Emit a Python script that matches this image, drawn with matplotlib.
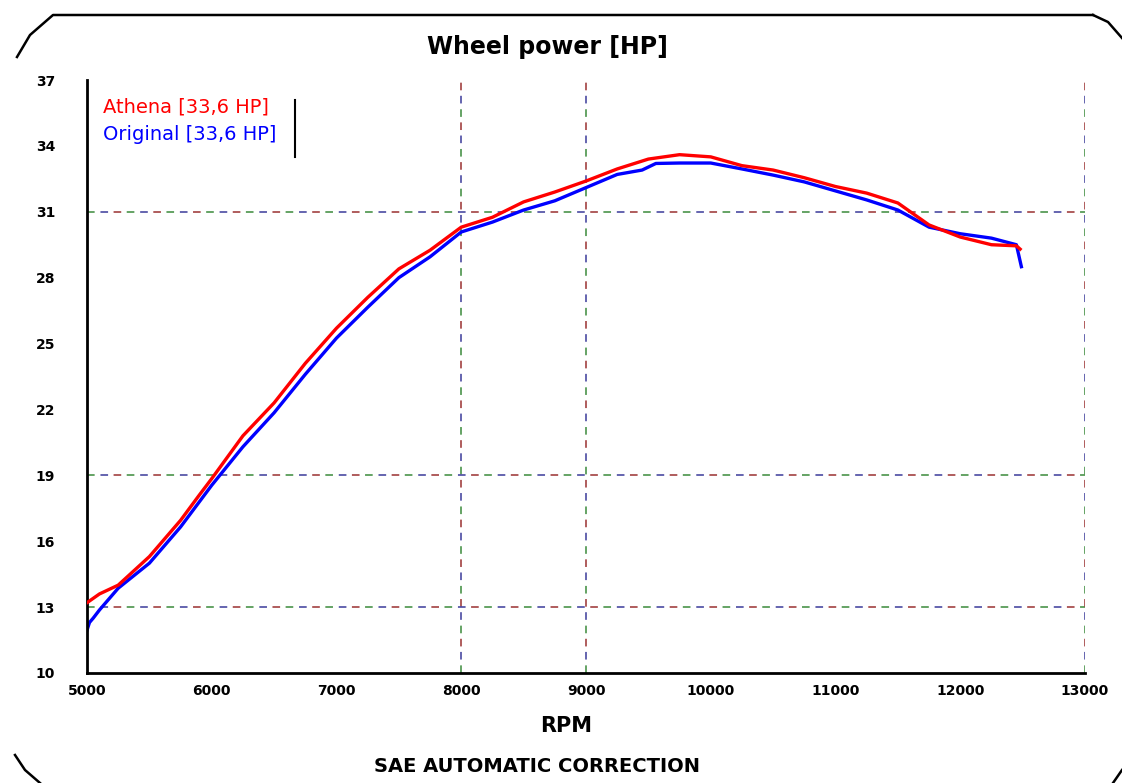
import numpy as np
import matplotlib
matplotlib.use("Agg")
import matplotlib.pyplot as plt
from matplotlib.lines import Line2D

plt.rcParams['font.family'] = ['DejaVu Sans']

# data
rpm_athena = [5000, 5100, 5250, 5500, 5750, 5900, 6000, 6250, 6500, 6750, 7000, 7250,
              7500, 7750, 8000, 8250, 8500, 8750, 9000, 9250, 9500, 9750, 10000,
              10250, 10500, 10750, 11000, 11250, 11500, 11750, 12000, 12250, 12450, 12480]
hp_athena = [13.2, 13.6, 14.0, 15.3, 16.95, 18.1, 18.85, 20.8, 22.3, 24.1, 25.7, 27.1,
             28.4, 29.25, 30.3, 30.75, 31.45, 31.9, 32.4, 32.95, 33.4, 33.6, 33.5,
             33.1, 32.9, 32.55, 32.15, 31.85, 31.4, 30.4, 29.85, 29.5, 29.45, 29.3]

rpm_orig = [5000, 5020, 5050, 5100, 5250, 5500, 5750, 6000, 6250, 6500, 6750, 7000, 7250,
            7500, 7750, 8000, 8250, 8500, 8750, 9000, 9250, 9450, 9560, 9750, 10000,
            10250, 10500, 10750, 11000, 11250, 11500, 11750, 12000, 12250, 12450, 12490]
hp_orig = [11.95, 12.3, 12.5, 12.87, 13.86, 15.0, 16.65, 18.55, 20.3, 21.85, 23.6, 25.25, 26.65,
           28.0, 28.95, 30.08, 30.53, 31.08, 31.5, 32.1, 32.7, 32.9, 33.2, 33.22, 33.22,
           32.95, 32.67, 32.36, 31.95, 31.54, 31.08, 30.3, 30.0, 29.8, 29.5, 28.5]

x_ticks = [5000, 6000, 7000, 8000, 9000, 10000, 11000, 12000, 13000]
y_ticks = [10, 13, 16, 19, 22, 25, 28, 31, 34, 37]
grid_x = [8000, 9000, 13000]
grid_y = [13, 19, 31]

W, H = 1122, 783
fig = plt.figure(figsize=(W / 100, H / 100), dpi=100)
ax = fig.add_axes([87 / W, 1 - 673 / H, (1085 - 87) / W, (673 - 80) / H])

# multi coloured dash pattern grid, like the dyno software
grid_cols = ['#3a8a3a', '#9a3030', '#3a3a9a']
for i, c in enumerate(grid_cols):
    ls = (i * 8.6, (5, 21))
    for gy in grid_y:
        ax.axhline(gy, color=c, lw=1.1, linestyle=ls, zorder=1)
    for gx in grid_x:
        ax.axvline(gx, color=c, lw=1.1, linestyle=ls, zorder=1)

ax.plot(rpm_athena, hp_athena, color='#ff0000', lw=2.4, zorder=3)
ax.plot(rpm_orig, hp_orig, color='#0000ff', lw=2.4, zorder=2)

ax.set_xlim(5000, 13000)
ax.set_ylim(10, 37)
ax.set_xticks(x_ticks)
ax.set_xticklabels([str(v) for v in x_ticks], fontsize=10, fontweight='bold')
ax.set_yticks(y_ticks)
ax.set_yticklabels([str(v) for v in y_ticks], fontsize=10, fontweight='bold')
ax.tick_params(length=0, pad=8)
ax.tick_params(axis='y', pad=23)
for s in ['top', 'right']:
    ax.spines[s].set_visible(False)
for s in ['left', 'bottom']:
    ax.spines[s].set_linewidth(2)

# legend-ish labels
ax.text(5130, 35.75, 'Athena [33,6 HP]', color='#ff0000', fontsize=14, va='center')
ax.text(5130, 34.5, 'Original [33,6 HP]', color='#0000ff', fontsize=14, va='center')
ax.plot([6670, 6670], [33.5, 36.1], color='black', lw=1.5, clip_on=False)

fig.text(547 / W, 1 - 47 / H, 'Wheel power [HP]', fontsize=17, fontweight='bold',
         ha='center', va='center')
fig.text(566 / W, 1 - 726 / H, 'RPM', fontsize=15, fontweight='bold', ha='center', va='center')
fig.text(537 / W, 1 - 767 / H, 'SAE AUTOMATIC CORRECTION', fontsize=14, fontweight='bold',
         ha='center', va='center')

# frame around the sheet
def px(xs, ys):
    return [x / W for x in xs], [1 - y / H for y in ys]

for xs, ys in [([17, 30, 53, 1093], [57, 35, 15, 15]),
               ([1093, 1108, 1122], [15, 22, 38]),
               ([15, 25, 40], [755, 770, 783]),
               ([1113, 1122], [783, 770])]:
    fx, fy = px(xs, ys)
    fig.add_artist(Line2D(fx, fy, color='black', lw=1.8))

fig.savefig('out.png', dpi=100)
